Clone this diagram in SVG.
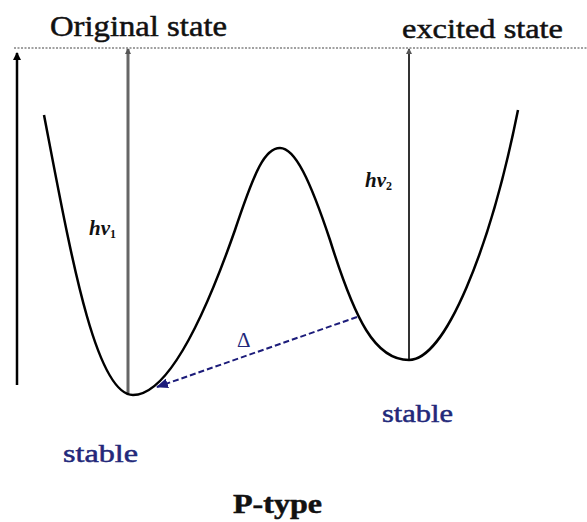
<svg xmlns="http://www.w3.org/2000/svg" width="587" height="522" viewBox="0 0 587 522">
<defs>
<marker id="ah" markerWidth="8" markerHeight="8" refX="7" refY="4" orient="auto" markerUnits="userSpaceOnUse"><path d="M0,0 L8,4 L0,8 Z" fill="#000"/></marker>
<marker id="ahg" markerWidth="6" markerHeight="6" refX="5" refY="3" orient="auto" markerUnits="userSpaceOnUse"><path d="M0,0 L6,3 L0,6 Z" fill="#555"/></marker>
<marker id="ahb" markerWidth="12" markerHeight="10" refX="11" refY="5" orient="auto" markerUnits="userSpaceOnUse"><path d="M0,0 L12,5 L0,10 Z" fill="#1c1c7a"/></marker>
</defs>
<style>
.t{font-family:"Liberation Serif","Times New Roman",serif;fill:#111;stroke:#111;stroke-width:0.5}
.b{font-family:"Liberation Serif","Times New Roman",serif;fill:#22287a;stroke:#22287a;stroke-width:0.5}
.hv{font-family:"Liberation Serif","Times New Roman",serif;font-style:italic;font-weight:bold;fill:#111;font-size:21px}
</style>
<rect width="587" height="522" fill="#fff"/>
<g id="connectors">
<line x1="14" y1="48" x2="587" y2="48" stroke="#444" stroke-width="1.2" stroke-dasharray="2,1.5"/>
<line x1="17" y1="385" x2="17" y2="53" stroke="#000" stroke-width="2.5" marker-end="url(#ah)"/>
<line x1="128" y1="393" x2="128" y2="49" stroke="#666" stroke-width="3" marker-end="url(#ahg)"/>
<line x1="409" y1="360" x2="409" y2="49" stroke="#333" stroke-width="2" marker-end="url(#ahg)"/>
<line x1="357" y1="317" x2="157" y2="387" stroke="#1c1c7a" stroke-width="2" stroke-dasharray="6,3" marker-end="url(#ahb)"/>
</g>
<g id="curve">
<path d="M44,115 C70,250 95,395 133,395 C165,395 200,330 235,230 C255,170 265,148 280,148 C295,148 310,180 330,240 C355,320 375,360 409,360 C445,360 490,250 518,110" fill="none" stroke="#000" stroke-width="2.5"/>
</g>
<g id="labels">
<text class="t" x="50" y="36" font-size="29" textLength="177" lengthAdjust="spacingAndGlyphs">Original state</text>
<text class="t" x="402" y="38" font-size="28" textLength="161" lengthAdjust="spacingAndGlyphs">excited state</text>
<text class="hv" x="89" y="235">hν<tspan font-size="12" dy="3" font-style="normal">1</tspan></text>
<text class="hv" x="365" y="187">hν<tspan font-size="12" dy="3" font-style="normal">2</tspan></text>
<text x="237" y="347" font-family="Liberation Serif,Times New Roman,serif" font-size="21" fill="#22287a">Δ</text>
<text class="b" x="382" y="422" font-size="25" textLength="71" lengthAdjust="spacingAndGlyphs">stable</text>
<text class="b" x="63" y="462" font-size="25" textLength="75" lengthAdjust="spacingAndGlyphs">stable</text>
<text class="t" x="233" y="513" font-size="27" font-weight="bold" textLength="89" lengthAdjust="spacingAndGlyphs">P-type</text>
</g>
</svg>
